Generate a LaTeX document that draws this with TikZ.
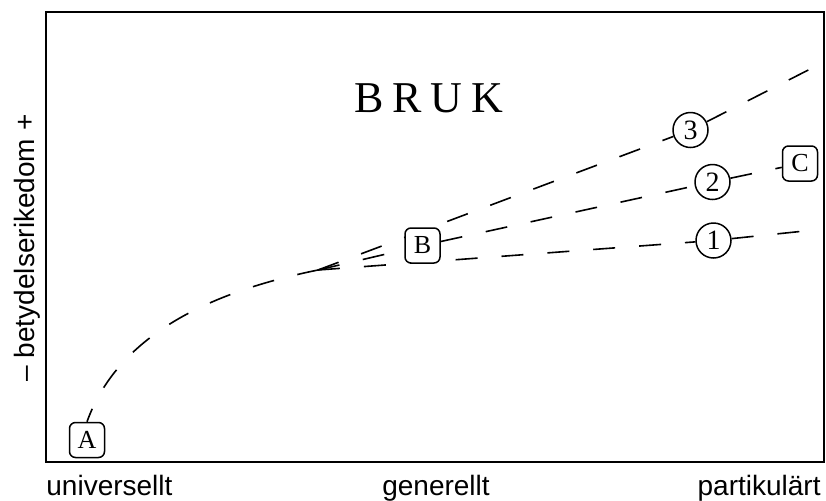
\documentclass[tikz,border=0pt]{standalone}
\usepackage{fontspec}
\setmainfont{Liberation Serif}
\newfontfamily\axisfont{Liberation Sans}
\usepackage{tikz}
\pgfdeclarelayer{back}
\pgfsetlayers{back,main}

\begin{document}
\begin{tikzpicture}[x=0.5pt,y=-0.5pt,
        letterbox/.style={rectangle,rounded corners=3pt,draw,fill=white,line width=0.75pt,minimum size=17.5pt,inner sep=0pt,font=\fontsize{13}{15}\selectfont},
        numring/.style={circle,draw,fill=white,line width=0.75pt,minimum size=17.5pt,inner sep=0pt,font=\fontsize{14}{16}\selectfont},
        dashline/.style={line width=0.8pt,dash pattern=on 11pt off 12pt},
        axislabel/.style={font=\axisfont\fontsize{14}{16}\selectfont,inner sep=0pt}]
        \useasboundingbox (0,0) rectangle (826,500);
        \draw[line width=1pt] (46,12) rectangle (824,462);
        \node[font=\fontsize{22}{26}\selectfont\addfontfeature{LetterSpace=20}] (bruk) at (429,98) {BRUK};
        \node[letterbox] (A) at (87,440) {A};
        \node[letterbox] (B) at (422.5,245.5) {B};
        \node[letterbox] (C) at (800,163.5) {C};
        \node[numring] (n1) at (713.5,240.5) {1};
        \node[numring] (n2) at (712.5,182) {2};
        \node[numring] (n3) at (690.5,130) {3};
        \node[axislabel,anchor=base west] (univ) at (46,495) {universellt};
        \node[axislabel,anchor=base] (gen) at (436,495) {generellt};
        \node[axislabel,anchor=base east] (part) at (821,495) {partikulärt};
        \node[axislabel,rotate=90] (rich) at (27,248) {– betydelserikedom +};
        \coordinate (fan) at (318,270);
        \coordinate (end1) at (824,229);
        \coordinate (end3) at (824,62);
        % dashed paths lie behind the boxes
        \begin{pgfonlayer}{back}
        \draw[dashline,dash phase=4pt] (A.north) .. controls (120,330) and (220,290) .. (fan);
        \draw[dashline] (fan) -- (n1) -- (end1);
        \draw[dashline] (fan) -- (B) -- (n2) -- (C);
        \draw[dashline] (fan) -- (n3) -- (end3);
        \end{pgfonlayer}
    \end{tikzpicture}
\end{document}
